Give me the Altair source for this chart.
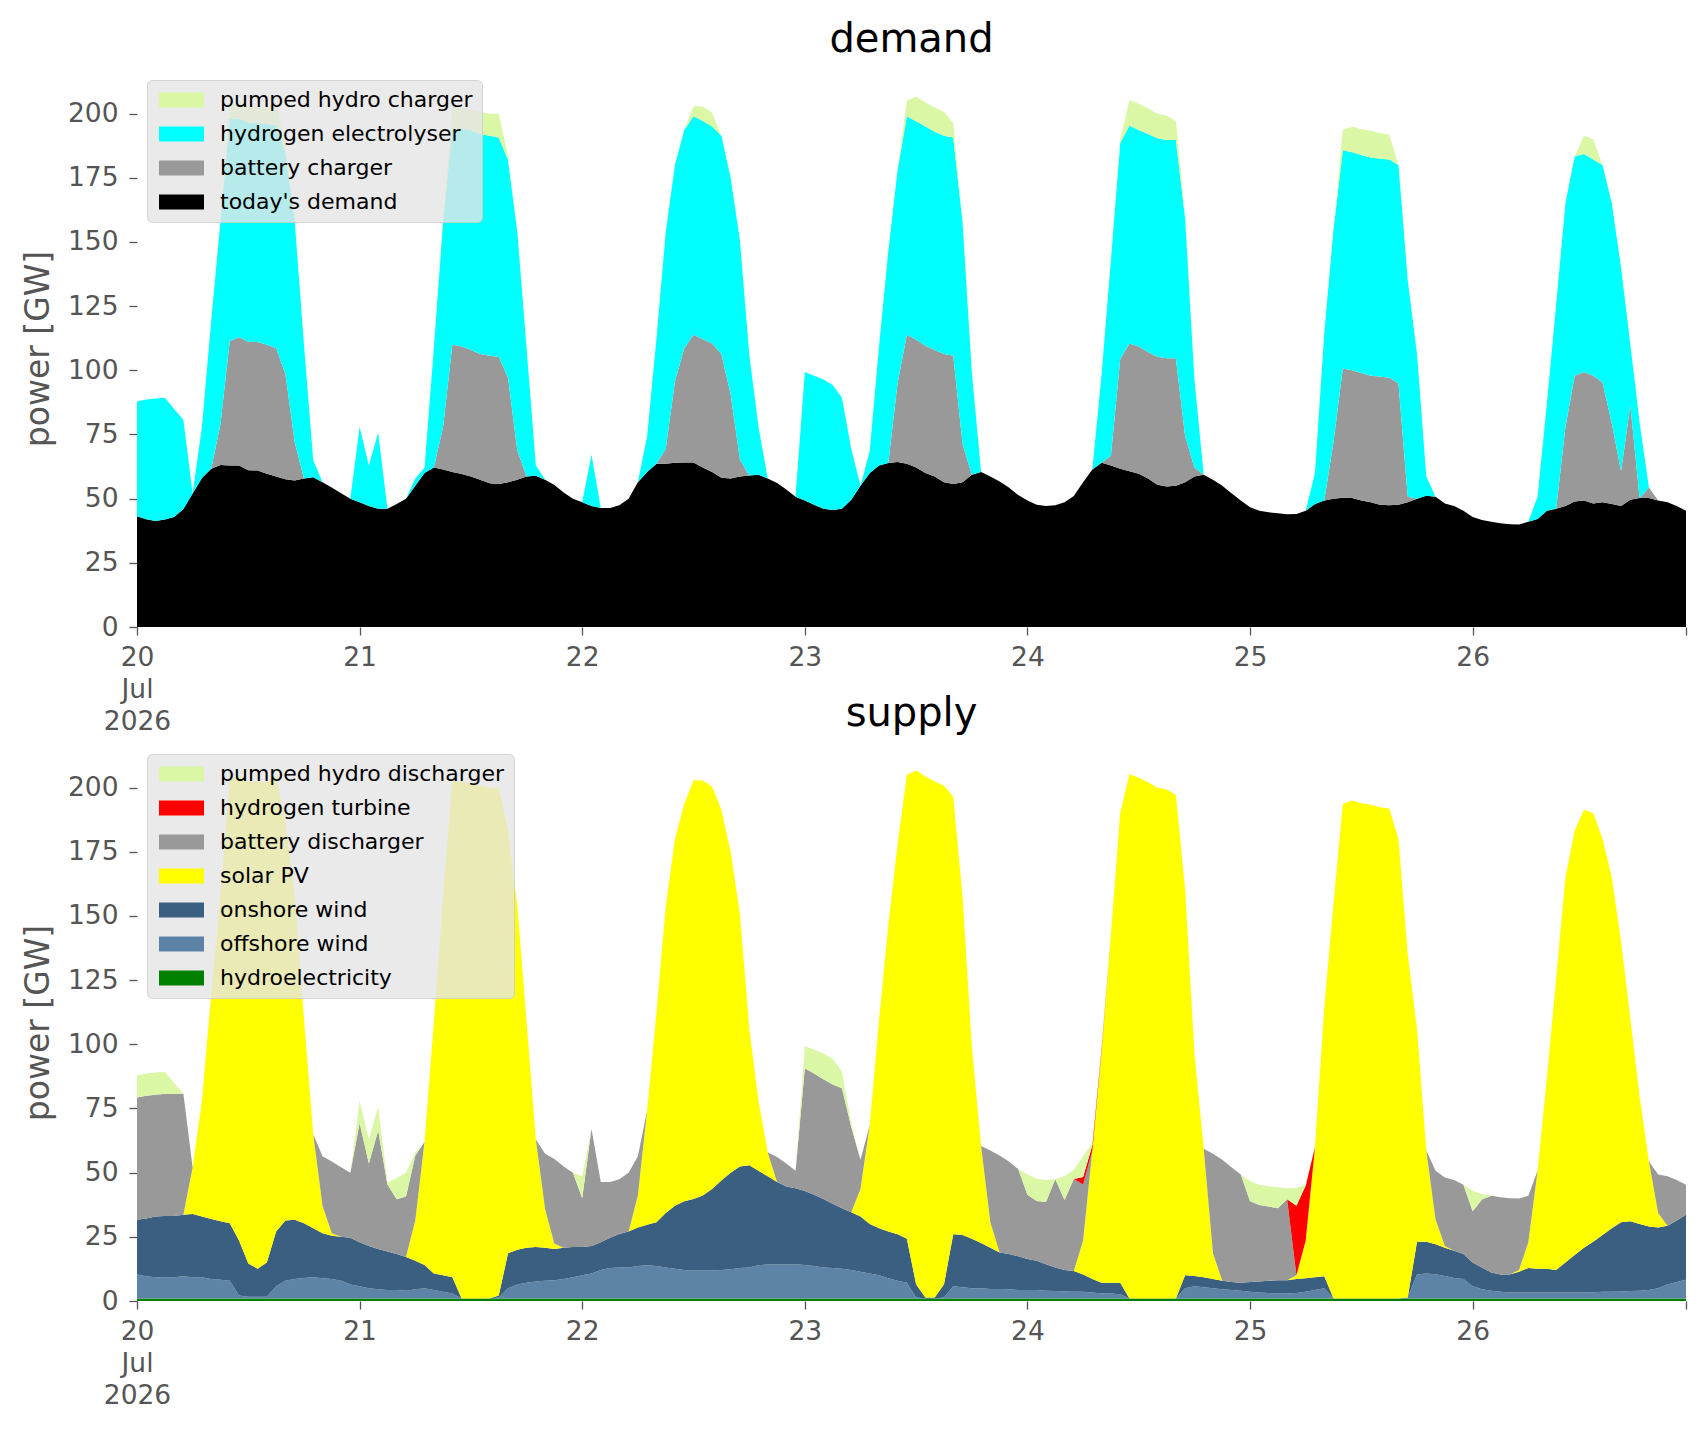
import altair as alt
import pandas as pd

# ---------------- data (GW, hourly, 20-26 Jul 2026) ----------------
todays_demand = [
    43.1, 42.0, 41.3, 41.9, 42.9, 46.0, 52.0, 58.0, 61.7, 63.1, 62.9, 62.9, 61.1, 61.0, 59.7, 58.6, 57.6, 57.1, 57.9, 58.3, 56.4, 54.3, 52.1, 50.0,
    48.6, 47.1, 46.1, 46.1, 47.9, 50.0, 55.0, 60.0, 62.1, 61.4, 60.4, 59.6, 58.6, 57.4, 56.0, 55.7, 56.4, 57.4, 58.6, 58.9, 57.4, 55.3, 52.4, 50.0,
    48.6, 47.1, 46.4, 46.4, 47.4, 50.0, 56.4, 60.4, 63.6, 63.6, 64.0, 64.1, 64.1, 62.1, 60.4, 58.1, 57.9, 58.6, 59.0, 59.3, 57.9, 56.1, 53.6, 50.7,
    49.3, 47.6, 46.1, 45.6, 46.1, 49.6, 55.0, 60.0, 62.9, 63.9, 64.3, 63.6, 62.1, 60.0, 58.6, 56.4, 55.7, 56.4, 59.3, 60.4, 58.6, 56.7, 54.3, 51.4,
    49.3, 47.6, 47.1, 47.4, 48.6, 51.0, 56.4, 61.4, 64.0, 62.9, 61.7, 60.7, 59.7, 57.9, 55.4, 54.7, 55.0, 56.4, 58.6, 59.3, 57.4, 55.0, 52.1, 49.3,
    46.7, 45.3, 44.7, 44.3, 43.9, 44.0, 45.3, 47.9, 49.3, 50.0, 50.4, 50.3, 49.3, 48.6, 47.6, 47.4, 47.6, 48.6, 50.0, 51.1, 50.7, 48.1, 47.1, 45.3,
    42.9, 41.7, 41.0, 40.4, 40.0, 39.9, 41.0, 42.1, 45.3, 46.1, 47.1, 48.9, 49.3, 48.1, 48.6, 47.9, 47.1, 49.6, 50.3, 50.3, 49.3, 48.6, 47.1, 45.3,
]
battery_charger = [
    0, 0, 0, 0, 0, 0, 0, 0, 0, 16.0, 48.5, 50.0, 50.0, 50.0, 50.3, 50.0, 41.0, 15.0, 0, 0, 0, 0, 0, 0,
    0, 0, 0, 0, 0, 0, 0, 0, 0, 16.5, 49.6, 49.7, 49.3, 49.0, 49.7, 49.6, 40.7, 11.5, 0, 0, 0, 0, 0, 0,
    0, 0, 0, 0, 0, 0, 0, 0, 0, 5.7, 31.7, 44.5, 49.8, 50.0, 50.0, 48.3, 32.8, 6.7, 0, 0, 0, 0, 0, 0,
    0, 0, 0, 0, 0, 0, 0, 0, 0, 0, 30.7, 50.3, 49.8, 49.6, 49.3, 50.0, 50.0, 15.0, 0, 0, 0, 0, 0, 0,
    0, 0, 0, 0, 0, 0, 0, 0, 0, 3.8, 42.6, 49.7, 49.6, 49.2, 49.9, 50.0, 49.7, 17.9, 3.5, 0, 0, 0, 0, 0,
    0, 0, 0, 0, 0, 0, 0, 0, 0, 22.1, 50.3, 49.7, 49.7, 49.3, 50.0, 49.7, 47.4, 2.1, 0, 0, 0, 0, 0, 0,
    0, 0, 0, 0, 0, 0, 0, 0, 0, 0, 30.8, 49.0, 50.0, 49.8, 46.7, 31.4, 13.6, 36.8, 0, 4.0, 0, 0, 0, 0,
]
hydrogen_electrolyser = [
    44.8, 46.6, 47.7, 47.4, 42.0, 34.7, 0, 19.9, 57.6, 79.0, 86.6, 85.0, 85.4, 85.4, 86.0, 87.0, 86.4, 86.0, 52.0, 6.7, 0, 0, 0, 0,
    29.3, 15.8, 29.6, 0, 0, 0, 2.9, 2.0, 46.3, 80.0, 84.3, 84.7, 85.6, 85.6, 85.7, 85.4, 84.9, 85.1, 50.0, 4.0, 0, 0, 0, 0,
    0, 20.0, 0, 0, 0, 0, 0, 13.9, 48.5, 84.3, 84.3, 85.0, 85.1, 85.0, 84.6, 85.0, 84.3, 85.4, 47.4, 18.6, 0, 0, 0, 0,
    50.0, 50.3, 50.3, 48.7, 43.2, 19.7, 0, 8.6, 46.4, 82.5, 82.9, 85.1, 85.1, 85.4, 85.0, 85.0, 85.0, 86.5, 40.0, 0, 0, 0, 0, 0,
    0, 0, 0, 0, 0, 0, 0, 0, 34.6, 76.2, 84.3, 84.9, 84.3, 85.0, 85.1, 85.0, 85.0, 85.0, 34.3, 0, 0, 0, 0, 0,
    0, 0, 0, 0, 0, 0, 0, 12.1, 65.0, 82.9, 85.0, 85.0, 84.9, 85.0, 84.8, 85.0, 85.0, 84.3, 56.4, 7.5, 0, 0, 0, 0,
    0, 0, 0, 0, 0, 0, 0, 8.6, 41.6, 79.3, 87.1, 85.4, 85.0, 84.2, 84.7, 85.7, 79.3, 23.6, 29.3, 0, 0, 0, 0, 0,
]
pumped_hydro_charger = [
    0, 0, 0, 0, 0, 0, 0, 0, 0, 0, 5.0, 7.0, 6.0, 6.0, 6.0, 9.0, 1.0, 0, 0, 0, 0, 0, 0, 0,
    0, 0, 0, 0, 0, 0, 0, 0, 0, 0, 8.6, 8.3, 8.0, 8.7, 8.6, 9.3, 1.6, 0, 0, 0, 0, 0, 0, 0,
    0, 0, 0, 0, 0, 0, 0, 0, 0, 0, 0, 0, 3.9, 5.7, 5.3, 0, 0, 0, 0, 0, 0, 0, 0, 0,
    0, 0, 0, 0, 0, 0, 0, 0, 0, 0, 0, 6.0, 9.7, 9.3, 9.5, 9.3, 5.7, 0, 0, 0, 0, 0, 0, 0,
    0, 0, 0, 0, 0, 0, 0, 0, 0, 0, 1.4, 10.0, 10.3, 10.0, 9.6, 9.6, 7.4, 1.0, 0, 0, 0, 0, 0, 0,
    0, 0, 0, 0, 0, 0, 0, 0, 0, 0, 7.9, 10.0, 10.0, 10.4, 10.0, 9.8, 0, 0, 0, 0, 0, 0, 0, 0,
    0, 0, 0, 0, 0, 0, 0, 0, 0, 0, 0, 0, 7.1, 7.9, 0, 0, 0, 0, 0, 0, 0, 0, 0, 0,
]

hydroelectricity = [
    1.0, 1.0, 1.0, 1.0, 1.0, 1.0, 1.0, 1.0, 1.0, 1.0, 1.0, 1.0, 1.0, 1.0, 1.0, 1.0, 1.0, 1.0, 1.0, 1.0, 1.0, 1.0, 1.0, 1.0,
    1.0, 1.0, 1.0, 1.0, 1.0, 1.0, 1.0, 1.0, 1.0, 1.0, 1.0, 1.0, 1.0, 1.0, 1.0, 1.0, 1.0, 1.0, 1.0, 1.0, 1.0, 1.0, 1.0, 1.0,
    1.0, 1.0, 1.0, 1.0, 1.0, 1.0, 1.0, 1.0, 1.0, 1.0, 1.0, 1.0, 1.0, 1.0, 1.0, 1.0, 1.0, 1.0, 1.0, 1.0, 1.0, 1.0, 1.0, 1.0,
    1.0, 1.0, 1.0, 1.0, 1.0, 1.0, 1.0, 1.0, 1.0, 1.0, 1.0, 1.0, 1.0, 1.0, 1.0, 1.0, 1.0, 1.0, 1.0, 1.0, 1.0, 1.0, 1.0, 1.0,
    1.0, 1.0, 1.0, 1.0, 1.0, 1.0, 1.0, 1.0, 1.0, 1.0, 1.0, 1.0, 1.0, 1.0, 1.0, 1.0, 1.0, 1.0, 1.0, 1.0, 1.0, 1.0, 1.0, 1.0,
    1.0, 1.0, 1.0, 1.0, 1.0, 1.0, 1.0, 1.0, 1.0, 1.0, 1.0, 1.0, 1.0, 1.0, 1.0, 1.0, 1.0, 1.0, 1.0, 1.0, 1.0, 1.0, 1.0, 1.0,
    1.0, 1.0, 1.0, 1.0, 1.0, 1.0, 1.0, 1.0, 1.0, 1.0, 1.0, 1.0, 1.0, 1.0, 1.0, 1.0, 1.0, 1.0, 1.0, 1.0, 1.0, 1.0, 1.0, 1.0,
]
offshore_wind = [
    9.3, 8.6, 8.3, 8.3, 8.3, 8.6, 8.3, 8.3, 7.6, 7.3, 6.9, 1.1, 0.7, 0.7, 0.7, 4.7, 6.9, 7.6, 8.0, 8.3, 7.9, 7.6, 6.9, 5.4,
    4.7, 4.0, 3.6, 3.3, 3.3, 3.0, 3.6, 4.0, 3.3, 2.6, 1.9, 0, 0, 0, 0, 0.4, 4.0, 5.4, 6.1, 6.6, 6.9, 7.1, 7.6, 8.3,
    9.0, 9.7, 11.1, 11.9, 12.1, 12.1, 12.6, 12.9, 12.6, 12.1, 11.6, 11.1, 10.9, 10.9, 10.9, 11.1, 11.4, 11.9, 12.1, 12.9, 13.3, 13.3, 13.3, 13.3,
    13.0, 12.6, 12.1, 11.9, 11.6, 11.1, 10.4, 9.7, 9.0, 7.9, 6.9, 6.1, 0.4, 0, 0, 0.4, 4.7, 4.4, 4.0, 4.0, 3.7, 3.7, 3.6, 3.3,
    3.3, 3.3, 3.0, 2.9, 2.7, 2.6, 2.6, 2.3, 1.9, 1.9, 1.6, 0, 0, 0, 0, 0, 0, 4.0, 4.7, 4.4, 4.0, 3.6, 3.3, 3.0,
    2.6, 2.3, 2.1, 1.9, 1.9, 2.1, 2.6, 3.3, 4.0, 0, 0, 0, 0, 0, 0, 0, 0, 0.4, 9.3, 9.7, 9.4, 8.7, 8.0, 7.6,
    4.7, 3.6, 3.0, 2.6, 2.3, 2.3, 2.3, 2.3, 2.3, 2.3, 2.3, 2.3, 2.3, 2.4, 2.6, 2.6, 2.7, 2.9, 3.0, 3.3, 4.0, 5.4, 6.4, 7.3,
]
onshore_wind = [
    21.4, 22.5, 23.6, 23.8, 23.8, 24.0, 24.6, 23.6, 23.3, 22.8, 22.4, 21.5, 12.9, 10.9, 13.3, 21.4, 23.5, 23.1, 21.3, 19.0, 17.5, 16.8, 17.1, 18.2,
    17.2, 16.4, 15.7, 15.0, 14.0, 13.1, 11.1, 9.0, 6.4, 6.4, 6.4, 0, 0, 0, 0, 0.7, 13.6, 13.6, 13.6, 13.4, 12.8, 12.2, 12.1, 11.7,
    11.0, 10.7, 10.8, 11.7, 13.0, 14.0, 15.0, 15.8, 17.1, 21.2, 24.5, 26.8, 27.8, 29.2, 31.7, 34.8, 37.6, 39.5, 39.8, 36.8, 34.3, 32.1, 30.3, 29.6,
    28.9, 27.8, 26.6, 25.0, 23.5, 22.5, 21.5, 19.3, 18.3, 18.2, 18.1, 17.2, 5.0, 0.4, 0.4, 5.0, 20.3, 20.3, 19.3, 17.6, 16.0, 14.2, 13.7, 13.1,
    12.1, 11.4, 10.3, 9.2, 8.4, 8.1, 6.7, 5.3, 4.2, 4.2, 4.5, 0, 0, 0, 0, 0, 0, 5.0, 4.0, 3.9, 3.6, 3.3, 3.1, 3.1,
    3.8, 4.3, 4.8, 5.2, 5.2, 5.5, 5.3, 5.0, 4.6, 0, 0, 0, 0, 0, 0, 0, 0, 0, 12.8, 12.4, 11.7, 11.0, 10.6, 9.7,
    9.3, 8.5, 7.1, 6.7, 7.0, 8.1, 9.6, 9.3, 9.3, 8.8, 11.7, 14.6, 17.4, 19.7, 22.1, 24.7, 27.0, 27.2, 26.0, 24.7, 23.6, 22.9, 24.0, 25.3,
]
solar_pv = [
    0, 0, 0, 0, 0, 0, 18.1, 45.0, 87.4, 127.0, 172.7, 181.3, 187.9, 189.8, 187.0, 177.5, 154.6, 126.4, 79.6, 36.7, 10.7, 1.0, 0, 0,
    0, 0, 0, 0, 0, 0, 15.7, 48.0, 97.7, 147.9, 193.6, 201.3, 200.5, 199.7, 199.0, 197.9, 165.0, 134.0, 87.9, 41.9, 15.0, 2.0, 0, 0,
    0, 0, 0, 0, 0, 0, 12.5, 44.6, 81.4, 119.3, 142.9, 154.7, 163.2, 161.7, 156.7, 144.5, 125.0, 98.3, 53.5, 27.2, 9.3, 0, 0, 0,
    0, 0, 0, 0, 0, 0, 10.7, 38.6, 81.0, 119.3, 151.9, 180.7, 200.3, 202.9, 201.0, 194.3, 170.4, 132.2, 75.0, 37.8, 10.0, 0, 0, 0,
    0, 0, 0, 0, 0, 0, 13.3, 50.0, 90.5, 135.8, 182.9, 204.3, 202.9, 201.1, 199.0, 198.3, 196.1, 150.3, 86.7, 50.0, 10.0, 0, 0, 0,
    0, 0, 0, 0, 0, 1.4, 14.7, 50.7, 104.7, 154.0, 192.6, 194.0, 192.9, 192.3, 191.4, 190.9, 179.0, 133.6, 82.8, 35.5, 9.7, 0.7, 0, 0,
    0, 0, 0, 0, 0, 0.7, 10.0, 38.1, 74.3, 113.3, 150.0, 165.4, 170.7, 166.9, 154.3, 136.7, 109.3, 78.9, 49.6, 25.3, 5.7, 0, 0, 0,
]
battery_discharger = [
    47.6, 47.9, 47.5, 47.6, 47.5, 47.1, 0, 0, 0, 0, 0, 0, 0, 0, 0, 0, 0, 0, 0, 0, 19.3, 27.9, 27.1, 25.4,
    46.4, 32.2, 46.1, 26.1, 21.3, 23.6, 25.2, 0, 0, 0, 0, 0, 0, 0, 0, 0, 0, 0, 0, 0, 21.7, 33.0, 31.7, 29.0,
    19.0, 45.7, 23.5, 21.8, 21.3, 22.9, 15.3, 0, 0, 0, 0, 0, 0, 0, 0, 0, 0, 0, 0, 0, 0, 9.7, 9.0, 6.8,
    47.8, 47.2, 46.7, 46.4, 46.8, 33.3, 11.4, 0, 0, 0, 0, 0, 0, 0, 0, 0, 0, 0, 0, 0, 27.9, 37.8, 36.0, 34.0,
    25.0, 23.3, 24.3, 34.3, 27.2, 35.8, 21.8, 0, 0, 0, 0, 0, 0, 0, 0, 0, 0, 0, 0, 0, 38.8, 47.1, 44.7, 42.2,
    31.5, 29.8, 28.9, 28.0, 31.5, 0, 0, 0, 0, 0, 0, 0, 0, 0, 0, 0, 0, 0, 0, 0, 18.9, 26.7, 27.5, 27.0,
    20.0, 26.4, 29.9, 30.1, 29.7, 27.8, 18.1, 0, 0, 0, 0, 0, 0, 0, 0, 0, 0, 0, 0, 0, 15.0, 19.3, 15.7, 11.7,
]
hydrogen_turbine = [
    0, 0, 0, 0, 0, 0, 0, 0, 0, 0, 0, 0, 0, 0, 0, 0, 0, 0, 0, 0, 0, 0, 0, 0,
    0, 0, 0, 0, 0, 0, 0, 0, 0, 0, 0, 0, 0, 0, 0, 0, 0, 0, 0, 0, 0, 0, 0, 0,
    0, 0, 0, 0, 0, 0, 0, 0, 0, 0, 0, 0, 0, 0, 0, 0, 0, 0, 0, 0, 0, 0, 0, 0,
    0, 0, 0, 0, 0, 0, 0, 0, 0, 0, 0, 0, 0, 0, 0, 0, 0, 0, 0, 0, 0, 0, 0, 0,
    0, 0, 0, 0, 0, 0, 2.9, 2.1, 1.0, 0, 0, 0, 0, 0, 0, 0, 0, 0, 0, 0, 0, 0, 0, 0,
    0, 0, 0, 0, 0, 27.1, 21.4, 0, 0, 0, 0, 0, 0, 0, 0, 0, 0, 0, 0, 0, 0, 0, 0, 0,
    0, 0, 0, 0, 0, 0, 0, 0, 0, 0, 0, 0, 0, 0, 0, 0, 0, 0, 0, 0, 0, 0, 0, 0,
]
pumped_hydro_discharger = [
    8.6, 8.6, 8.6, 8.6, 4.3, 0, 0, 0, 0, 0, 0, 0, 0, 0, 0, 0, 0, 0, 0, 0, 0, 0, 0, 0,
    8.6, 9.3, 9.3, 0.7, 8.3, 9.3, 1.3, 0, 0, 0, 0, 0, 0, 0, 0, 0, 0, 0, 0, 0, 0, 0, 0, 0,
    8.6, 0, 0, 0, 0, 0, 0, 0, 0, 0, 0, 0, 0, 0, 0, 0, 0, 0, 0, 0, 0, 0, 0, 0,
    8.6, 9.3, 10.0, 10.0, 6.4, 1.4, 0, 0, 0, 0, 0, 0, 0, 0, 0, 0, 0, 0, 0, 0, 0, 0, 0, 0,
    7.9, 8.6, 8.5, 0, 9.3, 3.5, 8.1, 0.7, 0, 0, 0, 0, 0, 0, 0, 0, 0, 0, 0, 0, 0, 0, 0, 0,
    7.8, 7.9, 7.9, 8.2, 4.3, 6.9, 0.3, 0, 0, 0, 0, 0, 0, 0, 0, 0, 0, 0, 0, 0, 0, 0, 0, 0,
    7.9, 2.2, 0, 0, 0, 0, 0, 0, 0, 0, 0, 0, 0, 0, 0, 0, 0, 0, 0, 0, 0, 0, 0, 0,
]

# stack order: bottom -> top
demand_series = [
    ("today's demand", todays_demand, "#000000"),
    ("battery charger", battery_charger, "#999999"),
    ("hydrogen electrolyser", hydrogen_electrolyser, "#00FFFF"),
    ("pumped hydro charger", pumped_hydro_charger, "#DAF7A6"),
]
supply_series = [
    ("hydroelectricity", hydroelectricity, "#008000"),
    ("offshore wind", offshore_wind, "#5D84A6"),
    ("onshore wind", onshore_wind, "#3A5F80"),
    ("solar PV", solar_pv, "#FFFF00"),
    ("battery discharger", battery_discharger, "#999999"),
    ("hydrogen turbine", hydrogen_turbine, "#FF0000"),
    ("pumped hydro discharger", pumped_hydro_discharger, "#DAF7A6"),
]

start = pd.Timestamp("2026-07-20 00:00", tz="UTC")
times = pd.date_range(start, periods=168, freq="h")
time_str = [t.strftime("%Y-%m-%dT%H:%M:%SZ") for t in times]
t_first = int(times[0].value // 10**6)
t_last = int(times[-1].value // 10**6)
tick_values = [int((start + pd.Timedelta(days=d)).value // 10**6) for d in range(7)] + [t_last]


def long_frame(series):
    rows = []
    for k, (name, vals, _c) in enumerate(series):
        for t, v in zip(time_str, vals):
            rows.append({"t": t, "series": name, "value": v, "order": k})
    return pd.DataFrame(rows)


FONT = "DejaVu Sans"
GREY = "#555555"
PLOT_W = 1549
PLOT_H = 557

label_expr = (
    "utcdate(datum.value) == 20 && utchours(datum.value) == 0 ? ['20', 'Jul', '2026'] : "
    "(utchours(datum.value) != 0 ? '' : toString(utcdate(datum.value)))"
)

# wide legend patch (45 x 15 px) drawn from the left edge of a small nominal symbol
LEGEND_PATCH = "M-1,-0.94H4.625V0.94H-1Z"


def panel(series, title):
    df = long_frame(series)
    names = [s[0] for s in series][::-1]
    colors = [s[2] for s in series][::-1]
    return (
        alt.Chart(df)
        .mark_area(interpolate="linear")
        .encode(
            x=alt.X(
                "t:T",
                scale=alt.Scale(type="utc", domain=[t_first, t_last], nice=False),
                axis=alt.Axis(
                    title=None,
                    values=tick_values,
                    labelExpr=label_expr,
                    labelFont=FONT,
                    labelFontSize=26.5,
                    labelColor=GREY,
                    labelLineHeight=32,
                    labelPadding=9,
                    labelOverlap=False,
                    labelFlush=False,
                    tickColor=GREY,
                    tickSize=8,
                    tickWidth=1.3,
                    domain=False,
                    grid=False,
                ),
            ),
            y=alt.Y(
                "value:Q",
                stack="zero",
                scale=alt.Scale(domain=[0, 217], nice=False),
                axis=alt.Axis(
                    title="power [GW]",
                    values=[0, 25, 50, 75, 100, 125, 150, 175, 200],
                    titleFont=FONT,
                    titleFontSize=33,
                    titleFontWeight="normal",
                    titleColor=GREY,
                    titlePadding=12,
                    labelFont=FONT,
                    labelFontSize=26.5,
                    labelColor=GREY,
                    labelPadding=11,
                    tickColor=GREY,
                    tickSize=8,
                    tickWidth=1.3,
                    domain=False,
                    grid=False,
                ),
            ),
            color=alt.Color(
                "series:N",
                scale=alt.Scale(domain=names, range=colors),
                legend=alt.Legend(
                    title=None,
                    orient="top-left",
                    offset=10,
                    fillColor="rgba(229,229,229,0.8)",
                    strokeColor="rgba(204,204,204,0.8)",
                    cornerRadius=5,
                    padding=9,
                    labelFont=FONT,
                    labelFontSize=22,
                    labelColor="#000000",
                    labelLimit=600,
                    labelOffset=42,
                    rowPadding=12,
                    symbolType=LEGEND_PATCH,
                    symbolSize=256,
                    symbolStrokeWidth=0,
                    symbolOpacity=1,
                    zindex=1,
                ),
            ),
            order=alt.Order("order:Q", sort="ascending"),
        )
        .properties(
            width=PLOT_W,
            height=PLOT_H,
            title=alt.TitleParams(
                title,
                font=FONT,
                fontSize=40,
                fontWeight="normal",
                color="#000000",
                anchor="middle",
                frame="group",
                baseline="alphabetic",
                offset=-22,
            ),
        )
    )


top = panel(demand_series, "demand")
bottom = panel(supply_series, "supply")

chart = (
    alt.vconcat(top, bottom, spacing=117, bounds="flush")
    .resolve_scale(color="independent")
    .resolve_legend(color="independent")
    .properties(padding={"left": 14, "top": 12, "right": 5, "bottom": 5})
    .configure(font=FONT)
    .configure_view(strokeWidth=0)
)

chart.save("out.html", embed_options={"renderer": "svg", "actions": False})
